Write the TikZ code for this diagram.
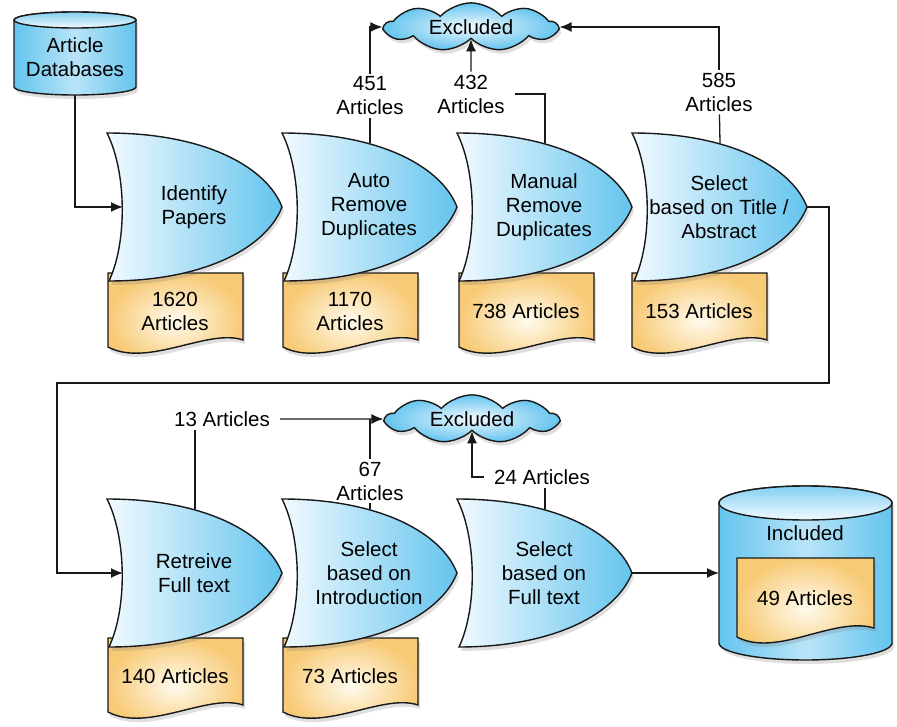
\documentclass[tikz,border=0pt]{standalone}
\usepackage{fontspec}
\setmainfont{Liberation Sans}
\usetikzlibrary{shapes.symbols,shadows,arrows.meta}

\definecolor{procblue}{RGB}{100,196,238}
\definecolor{proclight}{RGB}{242,250,255}
\definecolor{docorange}{RGB}{247,202,118}
\definecolor{doclight}{RGB}{255,251,238}
\definecolor{edge}{RGB}{25,25,25}

\newcommand{\procbox}[4]{%
  \begin{scope}[shift={(#2,#3)}]
    \shade[procshade] (0,0) .. controls (100,0) and (160,35) .. (175,74)
      .. controls (160,113) and (100,148) .. (2,148)
      .. controls (20,110) and (20,40) .. (0,0) -- cycle;
    \node[proctext] (#1) at (87,74) {#4};
    \coordinate (#1-top) at (88,10);
    \coordinate (#1-in) at (16,74);
    \coordinate (#1-tip) at (175,74);
  \end{scope}}

\newcommand{\docbox}[4]{%
  \begin{scope}[shift={(#2,#3)}]
    \shade[docshade] (0,0) -- (135,0) -- (135,67)
      .. controls (100,55) and (40,95) .. (0,74) -- cycle;
    \node[proctext] (#1) at (67,38) {#4};
  \end{scope}}

\begin{document}
\begin{tikzpicture}[x=1pt,y=-1pt,
    every node/.style={font=\fontsize{20.5}{24}\selectfont},
    softshadow/.style={drop shadow={shadow xshift=2pt,shadow yshift=-4pt,opacity=0.25}},
    procshade/.style={left color=proclight,right color=procblue,draw=edge,line width=1.4pt,softshadow},
    docshade/.style={inner color=doclight,outer color=docorange,draw=edge,line width=1.4pt,softshadow},
    cylshade/.style={left color=procblue,right color=procblue,middle color=proclight!60!procblue,draw=edge,line width=1.4pt,softshadow},
    cyltop/.style={top color=procblue!80,bottom color=proclight,draw=edge,line width=1.4pt},
    proctext/.style={align=center,inner sep=1pt},
    excl/.style={cloud,cloud puffs=9,cloud puff arc=95,cloud ignores aspect,minimum width=172pt,minimum height=44pt,
      inner color=proclight,outer color=procblue,draw=edge,line width=1.4pt,softshadow},
    lbl/.style={align=center,inner xsep=10pt,inner ysep=3pt},
    conn/.style={line width=1.3pt,draw=edge},
    arr/.style={conn,-{Latex[length=12pt,width=10pt]}}]
\fill[white] (0,0) rectangle (897,727);
\useasboundingbox (0,0) rectangle (897,727);

% source database
\shade[cylshade] (14,20) -- (14,87) arc[start angle=180,end angle=0,x radius=61,y radius=8]
  -- (136,20) arc[start angle=0,end angle=-180,x radius=61,y radius=8] -- cycle;
\shade[cyltop] (75,20) ellipse[x radius=61,y radius=8];
\node[proctext] (db) at (75,57) {Article\\Databases};
\coordinate (db-bot) at (75,95);

% first row
\docbox{d1}{108}{273}{1620\\Articles}
\docbox{d2}{283}{273}{1170\\Articles}
\docbox{d3}{459}{273}{738 Articles}
\docbox{d4}{632}{273}{153 Articles}
\procbox{p1}{107}{133}{Identify\\Papers}
\procbox{p2}{282}{133}{Auto\\Remove\\Duplicates}
\procbox{p3}{457}{133}{Manual\\Remove\\Duplicates}
\procbox{p4}{632}{133}{Select\\based on Title /\\Abstract}

% second row
\docbox{d5}{108}{638}{140 Articles}
\docbox{d6}{283}{638}{73 Articles}
\procbox{p5}{107}{499}{Retreive\\Full text}
\procbox{p6}{282}{499}{Select\\based on\\Introduction}
\procbox{p7}{457}{499}{Select\\based on\\Full text}

% included
\shade[cylshade] (719,503) -- (719,643) arc[start angle=180,end angle=0,x radius=86.5,y radius=17]
  -- (892,503) arc[start angle=0,end angle=-180,x radius=86.5,y radius=17] -- cycle;
\shade[cyltop] (805.5,503) ellipse[x radius=86.5,y radius=17];
\node[proctext] (inc) at (805,533) {Included};
\shade[docshade] (737,558) -- (874,558) -- (874,628)
  .. controls (834,616) and (777,658) .. (737,637) -- cycle;
\node[proctext] (d8) at (805,598) {49 Articles};
\coordinate (inc-w) at (719,573);

% excluded
\node[excl] (ex1) at (471,27) {Excluded};
\node[excl] (ex2) at (472,419) {Excluded};

\node[lbl] (l451) at (370,96) {451\\Articles};
\node[lbl] (l432) at (471,94) {432\\Articles};
\node[lbl] (l585) at (719,92) {585\\Articles};
\node[lbl] (l13) at (222,419) {13 Articles};
\node[lbl] (l67) at (370,481) {67\\Articles};
\node[lbl] (l24) at (542,477) {24 Articles};

\coordinate (turnA) at (829,383);
\coordinate (turnB) at (57,383);

\draw[arr] (db-bot) |- (p1-in);
\draw[conn] (p2-top) -- (l451);
\draw[arr] (l451) |- (ex1.west);
\draw[conn] (p3-top) |- (l432);
\draw[arr] (l432) -- (ex1.south);
\draw[conn] (p4-top) -- (l585);
\draw[arr] (l585) |- (ex1.east);
\draw[arr] (p4-tip) -| (turnA) -- (turnB) |- (p5-in);
\draw[conn] (p5-top) -- (p5-top |- l13.south);
\draw[arr] (l13) -- (ex2.west);
\draw[conn] (p6-top) -- (l67);
\draw[conn] (l67) -- (l67 |- l13);
\draw[conn] (p7-top) -- (p7-top |- l24.south);
\draw[arr] (l24) -| (ex2.south);
\draw[arr] (p7-tip) -- (inc-w);
\end{tikzpicture}
\end{document}
